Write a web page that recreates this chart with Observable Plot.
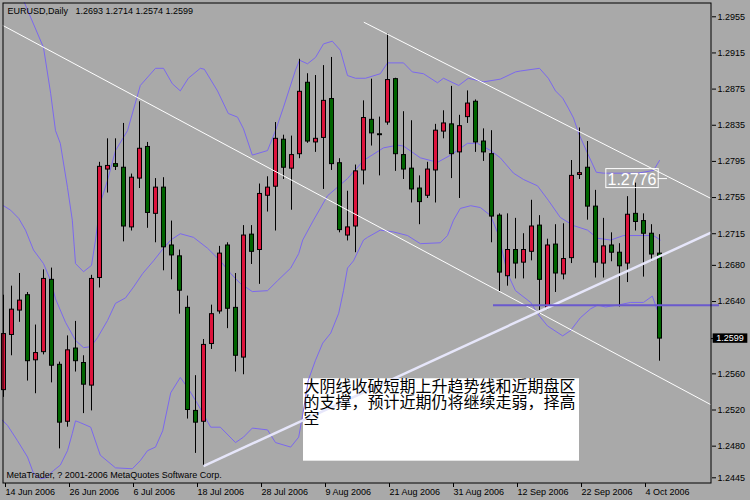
<!DOCTYPE html>
<html><head><meta charset="utf-8">
<script src="https://cdn.jsdelivr.net/npm/d3@7"></script>
<script src="https://cdn.jsdelivr.net/npm/@observablehq/plot@0.6"></script>
<style>
html,body{margin:0;padding:0;background:#a9a9a9;}
#chart{width:750px;height:500px;}
</style></head><body><div id="chart"></div>
<script>
// ---- data (bar index 0 = 14 Jun 2006, daily bars) ----
const open = [1.2542,1.2603,1.2630,1.2647,1.2575,1.2584,1.2664,1.2570,1.2507,1.2588,1.2572,1.2547,1.2666,1.2786,1.2792,1.2788,1.2722,1.2776,1.2811,1.2737,1.2766,1.2702,1.2690,1.2633,1.2519,1.2507,1.2593,1.2629,1.2702,1.2633,1.2578,1.2714,1.2697,1.2757,1.2767,1.2819,1.2787,1.2803,1.2882,1.2816,1.2821,1.2864,1.2793,1.2713,1.2723,1.2785,1.2841,1.2825,1.2838,1.2886,1.2802,1.2787,1.2765,1.2757,1.2785,1.2828,1.2836,1.2805,1.2844,1.2861,1.2817,1.2803,1.2735,1.2668,1.2697,1.2683,1.2695,1.2724,1.2633,1.2703,1.2670,1.2688,1.2780,1.2788,1.2745,1.2682,1.2702,1.2694,1.2682,1.2737,1.2729,1.2715,1.2693];
const high = [1.2647,1.2657,1.2671,1.2650,1.2614,1.2675,1.2677,1.2573,1.2602,1.2618,1.2580,1.2669,1.2794,1.2820,1.2820,1.2837,1.2781,1.2861,1.2816,1.2776,1.2777,1.2729,1.2697,1.2646,1.2558,1.2598,1.2636,1.2701,1.2705,1.2671,1.2724,1.2724,1.2770,1.2778,1.2838,1.2824,1.2823,1.2908,1.2892,1.2890,1.2901,1.2910,1.2798,1.2762,1.2791,1.2862,1.2886,1.2844,1.2936,1.2887,1.2850,1.2840,1.2779,1.2794,1.2836,1.2851,1.2878,1.2846,1.2873,1.2863,1.2831,1.2829,1.2737,1.2737,1.2732,1.2715,1.2752,1.2735,1.2709,1.2725,1.2726,1.2796,1.2832,1.2817,1.2763,1.2732,1.2716,1.2704,1.2756,1.2771,1.2737,1.2725,1.2714];
const low = [1.2534,1.2580,1.2617,1.2552,1.2538,1.2581,1.2550,1.2477,1.2501,1.2562,1.2516,1.2519,1.2655,1.2760,1.2785,1.2706,1.2718,1.2765,1.2721,1.2705,1.2674,1.2664,1.2626,1.2510,1.2472,1.2458,1.2587,1.2626,1.2610,1.2562,1.2559,1.2681,1.2659,1.2739,1.2718,1.2775,1.2741,1.2798,1.2815,1.2805,1.2764,1.2785,1.2716,1.2707,1.2694,1.2769,1.2812,1.2779,1.2835,1.2784,1.2775,1.2749,1.2725,1.2754,1.2749,1.2820,1.2776,1.2754,1.2837,1.2805,1.2795,1.2705,1.2650,1.2657,1.2665,1.2665,1.2685,1.2626,1.2631,1.2650,1.2664,1.2682,1.2775,1.2730,1.2666,1.2666,1.2684,1.2634,1.2661,1.2718,1.2667,1.2684,1.2574];
const close = [1.2604,1.2631,1.2641,1.2574,1.2583,1.2665,1.2569,1.2506,1.2586,1.2574,1.2548,1.2665,1.2789,1.2790,1.2789,1.2723,1.2777,1.2809,1.2738,1.2766,1.2700,1.2691,1.2652,1.2520,1.2506,1.2592,1.2626,1.2693,1.2632,1.2580,1.2713,1.2695,1.2759,1.2766,1.2820,1.2788,1.2802,1.2872,1.2817,1.2820,1.2862,1.2792,1.2719,1.2722,1.2784,1.2843,1.2826,1.2824,1.2885,1.2803,1.2786,1.2764,1.2750,1.2786,1.2829,1.2837,1.2803,1.2834,1.2859,1.2816,1.2805,1.2734,1.2672,1.2697,1.2682,1.2697,1.2723,1.2664,1.2702,1.2671,1.2687,1.2779,1.2782,1.2745,1.2683,1.2701,1.2694,1.2679,1.2736,1.2728,1.2715,1.2692,1.2599];

// Bollinger bands: [bar index, price]
const bbUpper = [[2.5,1.2973],[5,1.2921],[5.9,1.2870],[6.5,1.2829],[7.1,1.2815],[8,1.2766],[8.6,1.2730],[9,1.2682],[10,1.2673],[11,1.2680],[11.5,1.2708],[12.1,1.2749],[13,1.2774],[14,1.2807],[15.5,1.2829],[17.1,1.2879],[19,1.2898],[20,1.2898],[21.1,1.2881],[22.1,1.2873],[23.1,1.2887],[24.6,1.2898],[25.1,1.2897],[26.75,1.2873],[28.1,1.2848],[29.25,1.2844],[30,1.2831],[31.1,1.2802],[33,1.2807],[34,1.2829],[35,1.2855],[36.5,1.2896],[37,1.2907],[38,1.2903],[39,1.2910],[40,1.2925],[41.1,1.2928],[42.1,1.2918],[43,1.2890],[44,1.2887],[45.25,1.2887],[47.1,1.2892],[48,1.2904],[50,1.2904],[51.1,1.2894],[52.5,1.2892],[54.25,1.2882],[55,1.2887],[56.9,1.2879],[58.1,1.2887],[60,1.2883],[62.1,1.2886],[64,1.2894],[64.6,1.2895],[67,1.2898],[68.1,1.2887],[69,1.2873],[69.9,1.2865],[70.6,1.2854],[71.25,1.2843],[71.9,1.2826],[73,1.2804],[74.1,1.2783],[75,1.2782],[77.5,1.2782],[79.25,1.2782],[81.25,1.2785],[82,1.2796]];
const bbMiddle = [[0,1.2746],[0.9,1.2741],[1.9,1.2732],[2.75,1.2719],[3.75,1.2697],[5,1.2682],[5.9,1.2663],[6.5,1.2643],[7.75,1.2617],[9,1.2597],[10,1.2589],[10.9,1.2590],[11.75,1.2600],[13,1.2619],[14,1.2638],[15.25,1.2644],[16.25,1.2656],[17.4,1.2671],[18.75,1.2685],[20,1.2699],[20.9,1.2708],[22.1,1.2715],[23.75,1.2711],[25.5,1.2699],[27.1,1.2685],[28.4,1.2671],[29.6,1.2660],[31.1,1.2651],[33,1.2652],[34.25,1.2663],[35.9,1.2677],[36.9,1.2693],[37.4,1.2708],[38.75,1.2730],[40.5,1.2757],[43,1.2776],[45,1.2796],[47.5,1.2810],[49.25,1.2813],[50,1.2812],[52.1,1.2799],[54.25,1.2794],[55.9,1.2802],[58,1.2815],[59.25,1.2815],[60.9,1.2807],[62.1,1.2799],[63.75,1.2782],[65,1.2775],[66.75,1.2768],[68.1,1.2752],[69.6,1.2733],[71.25,1.2724],[73,1.2719],[74.25,1.2710],[75.9,1.2708],[77.5,1.2713],[81.25,1.2713],[82.1,1.2708]];
const bbLower = [[-0.4,1.2511],[0.5,1.2503],[1.75,1.2486],[3,1.2468],[3.75,1.2450],[4.6,1.2444],[5.25,1.2445],[6.25,1.2453],[7.1,1.2459],[8,1.2475],[8.6,1.2494],[9,1.2508],[9.6,1.2506],[10.9,1.2501],[12.1,1.2470],[14,1.2456],[16.1,1.2455],[17.1,1.2464],[18,1.2475],[19,1.2479],[19.9,1.2497],[20.9,1.2539],[22.1,1.2556],[23,1.2545],[24.25,1.2527],[25.9,1.2501],[27.1,1.2501],[29,1.2484],[30,1.2490],[31.1,1.2500],[33,1.2498],[34,1.2484],[35.9,1.2479],[36.9,1.2490],[37.5,1.2520],[38.1,1.2553],[39,1.2575],[39.9,1.2594],[40.9,1.2605],[41.9,1.2627],[42.5,1.2652],[43,1.2677],[43.75,1.2685],[45,1.2708],[45.5,1.2711],[47.1,1.2719],[48.75,1.2717],[50.5,1.2713],[52.1,1.2704],[54.6,1.2705],[55.5,1.2713],[56.25,1.2730],[57.1,1.2743],[58.4,1.2746],[59.6,1.2744],[60.9,1.2735],[61.9,1.2713],[63,1.2671],[64,1.2652],[65.9,1.2639],[66.9,1.2625],[68,1.2613],[69.9,1.2602],[70.9,1.2608],[72.1,1.2622],[73.4,1.2632],[74.25,1.2636],[75.25,1.2634],[76.75,1.2636],[78.4,1.2639],[80,1.2639],[81.1,1.2646],[81.75,1.2630],[82.1,1.2617]];

// trend lines: [[bar, price],[bar, price]]
const downTrendLong = [[-0.125,1.29456],[88.5,1.25255]];
const downTrendShort = [[45.04,1.2949],[88.5,1.27537]];
const upTrend = [[25,1.2458],[88.5,1.27165]];
const supportLevel = 1.2636;
const supportSpan = [61.25, 89.5];
const trendLabel = 1.2776;

const xTickIdx = [0,8,16,24,32,40,48,56,64,72,80];
const xLabels = ["14 Jun 2006","26 Jun 2006","6 Jul 2006","18 Jul 2006","28 Jul 2006","9 Aug 2006","21 Aug 2006","31 Aug 2006","12 Sep 2006","22 Sep 2006","4 Oct 2006"];
const yTicks = [1.2955,1.2915,1.2875,1.2835,1.2795,1.2755,1.2715,1.2680,1.2640,1.2560,1.2520,1.2480,1.2445];

const headerText = "EURUSD,Daily\u00a0\u00a0\u00a01.2693 1.2714 1.2574 1.2599";
const footerText = "MetaTrader, ? 2001-2006 MetaQuotes Software Corp.";
const noteText = "大阴线收破短期上升趋势线和近期盘区\n的支撑，预计近期仍将继续走弱，择高\n空";
const noteBox = {x1: 37.5, x2: 72, y1: 1.25546, y2: 1.24634};

// ---- build ----
const bars = open.map((o, i) => ({i, o, h: high[i], l: low[i], c: close[i], bull: close[i] > open[i]}));
const lastClose = close[close.length - 1];
const seg = (pts) => [{x1: pts[0][0], y1: pts[0][1], x2: pts[1][0], y2: pts[1][1]}];

const chart = Plot.plot({
  width: 750, height: 500,
  marginLeft: 2, marginRight: 39, marginTop: 2, marginBottom: 17,
  style: {background: "#a9a9a9", fontFamily: "Liberation Sans, Arial, sans-serif", fontSize: "9px", color: "black", overflow: "visible"},
  x: {type: "linear", domain: [-0.125, 88.5]},
  y: {type: "linear", domain: [1.24387, 1.29708]},
  marks: [
    // annotation box (behind lines)
    Plot.rect([noteBox], {x1: "x1", x2: "x2", y1: "y1", y2: "y2", fill: "white"}),
    // Bollinger bands
    Plot.line(bbUpper, {x: d => d[0], y: d => d[1], stroke: "#7b68ee", strokeWidth: 1, clip: true}),
    Plot.line(bbMiddle, {x: d => d[0], y: d => d[1], stroke: "#7b68ee", strokeWidth: 1, clip: true}),
    Plot.line(bbLower, {x: d => d[0], y: d => d[1], stroke: "#7b68ee", strokeWidth: 1, clip: true}),
    // candles
    Plot.ruleX(bars, {x: "i", y1: "l", y2: "h", stroke: "black", strokeWidth: 1}),
    Plot.rect(bars, {x1: d => d.i - 0.25, x2: d => d.i + 0.25, y1: "o", y2: "c",
      fill: d => d.bull ? "#dc143c" : "#006400", stroke: "black", strokeWidth: 1,
      insetLeft: 0.5, insetRight: -0.5}),
    // trend lines
    Plot.link(seg(downTrendLong), {x1: "x1", y1: "y1", x2: "x2", y2: "y2", stroke: "white", strokeWidth: 1, clip: true}),
    Plot.link(seg(downTrendShort), {x1: "x1", y1: "y1", x2: "x2", y2: "y2", stroke: "white", strokeWidth: 1, clip: true}),
    Plot.link(seg(upTrend), {x1: "x1", y1: "y1", x2: "x2", y2: "y2", stroke: "#e6e6fa", strokeWidth: 2.5, clip: true}),
    // support level
    Plot.ruleY([supportLevel], {x1: supportSpan[0], x2: supportSpan[1], stroke: "#6a5acd", strokeWidth: 2}),
    // trend price label
    Plot.rect([trendLabel], {x1: 75.29, x2: 81.84, y1: d => d + 0.00105, y2: d => d - 0.00105, fill: "none", stroke: "white", strokeWidth: 1, insetLeft: 0.5, insetRight: -0.5}),
    Plot.ruleY([trendLabel], {x1: 81.84, x2: 83.0, stroke: "white", strokeWidth: 1}),
    Plot.text([trendLabel], {x: 78.56, y: d => d, text: d => d.toFixed(4), fill: "white", fontSize: 16, textAnchor: "middle", dy: 1}),
    // frame and axes
    Plot.frame({stroke: "black", insetLeft: 0.5, insetTop: 0.5, insetRight: 0.5, insetBottom: 0.5}),
    Plot.axisY(yTicks, {anchor: "right", tickSize: 4, tickPadding: 2, textAnchor: "start", tickFormat: d => d.toFixed(4), label: null}),
    Plot.axisX(xTickIdx, {anchor: "bottom", tickSize: 4, tickPadding: 1, textAnchor: "start", dx: 2, tickFormat: d => xLabels[xTickIdx.indexOf(d)], label: null}),
    // last price marker
    Plot.ruleY([lastClose], {x1: 88.5, x2: 89, stroke: "black"}),
    Plot.rect([lastClose], {x1: 88.71, x2: 93.04, y1: d => d + 0.00052, y2: d => d - 0.00052, fill: "black"}),
    Plot.text([lastClose], {x: 89.1, y: d => d, text: d => d.toFixed(4), fill: "white", textAnchor: "start"}),
    // texts
    Plot.text([headerText], {frameAnchor: "top-left", text: d => d, textAnchor: "start", lineAnchor: "middle", dx: 5, dy: 9, fill: "black"}),
    Plot.text([footerText], {frameAnchor: "bottom-left", text: d => d, textAnchor: "start", lineAnchor: "middle", dx: 4, dy: -8, fill: "black"}),
    Plot.text([noteText], {x: noteBox.x1, y: noteBox.y1, text: d => d, textAnchor: "start", lineAnchor: "top", lineHeight: 1, fontSize: 16, dy: 2, fill: "black", fontFamily: "Noto Sans CJK SC"})
  ]
});
document.getElementById("chart").appendChild(chart);
</script>
</body></html>
